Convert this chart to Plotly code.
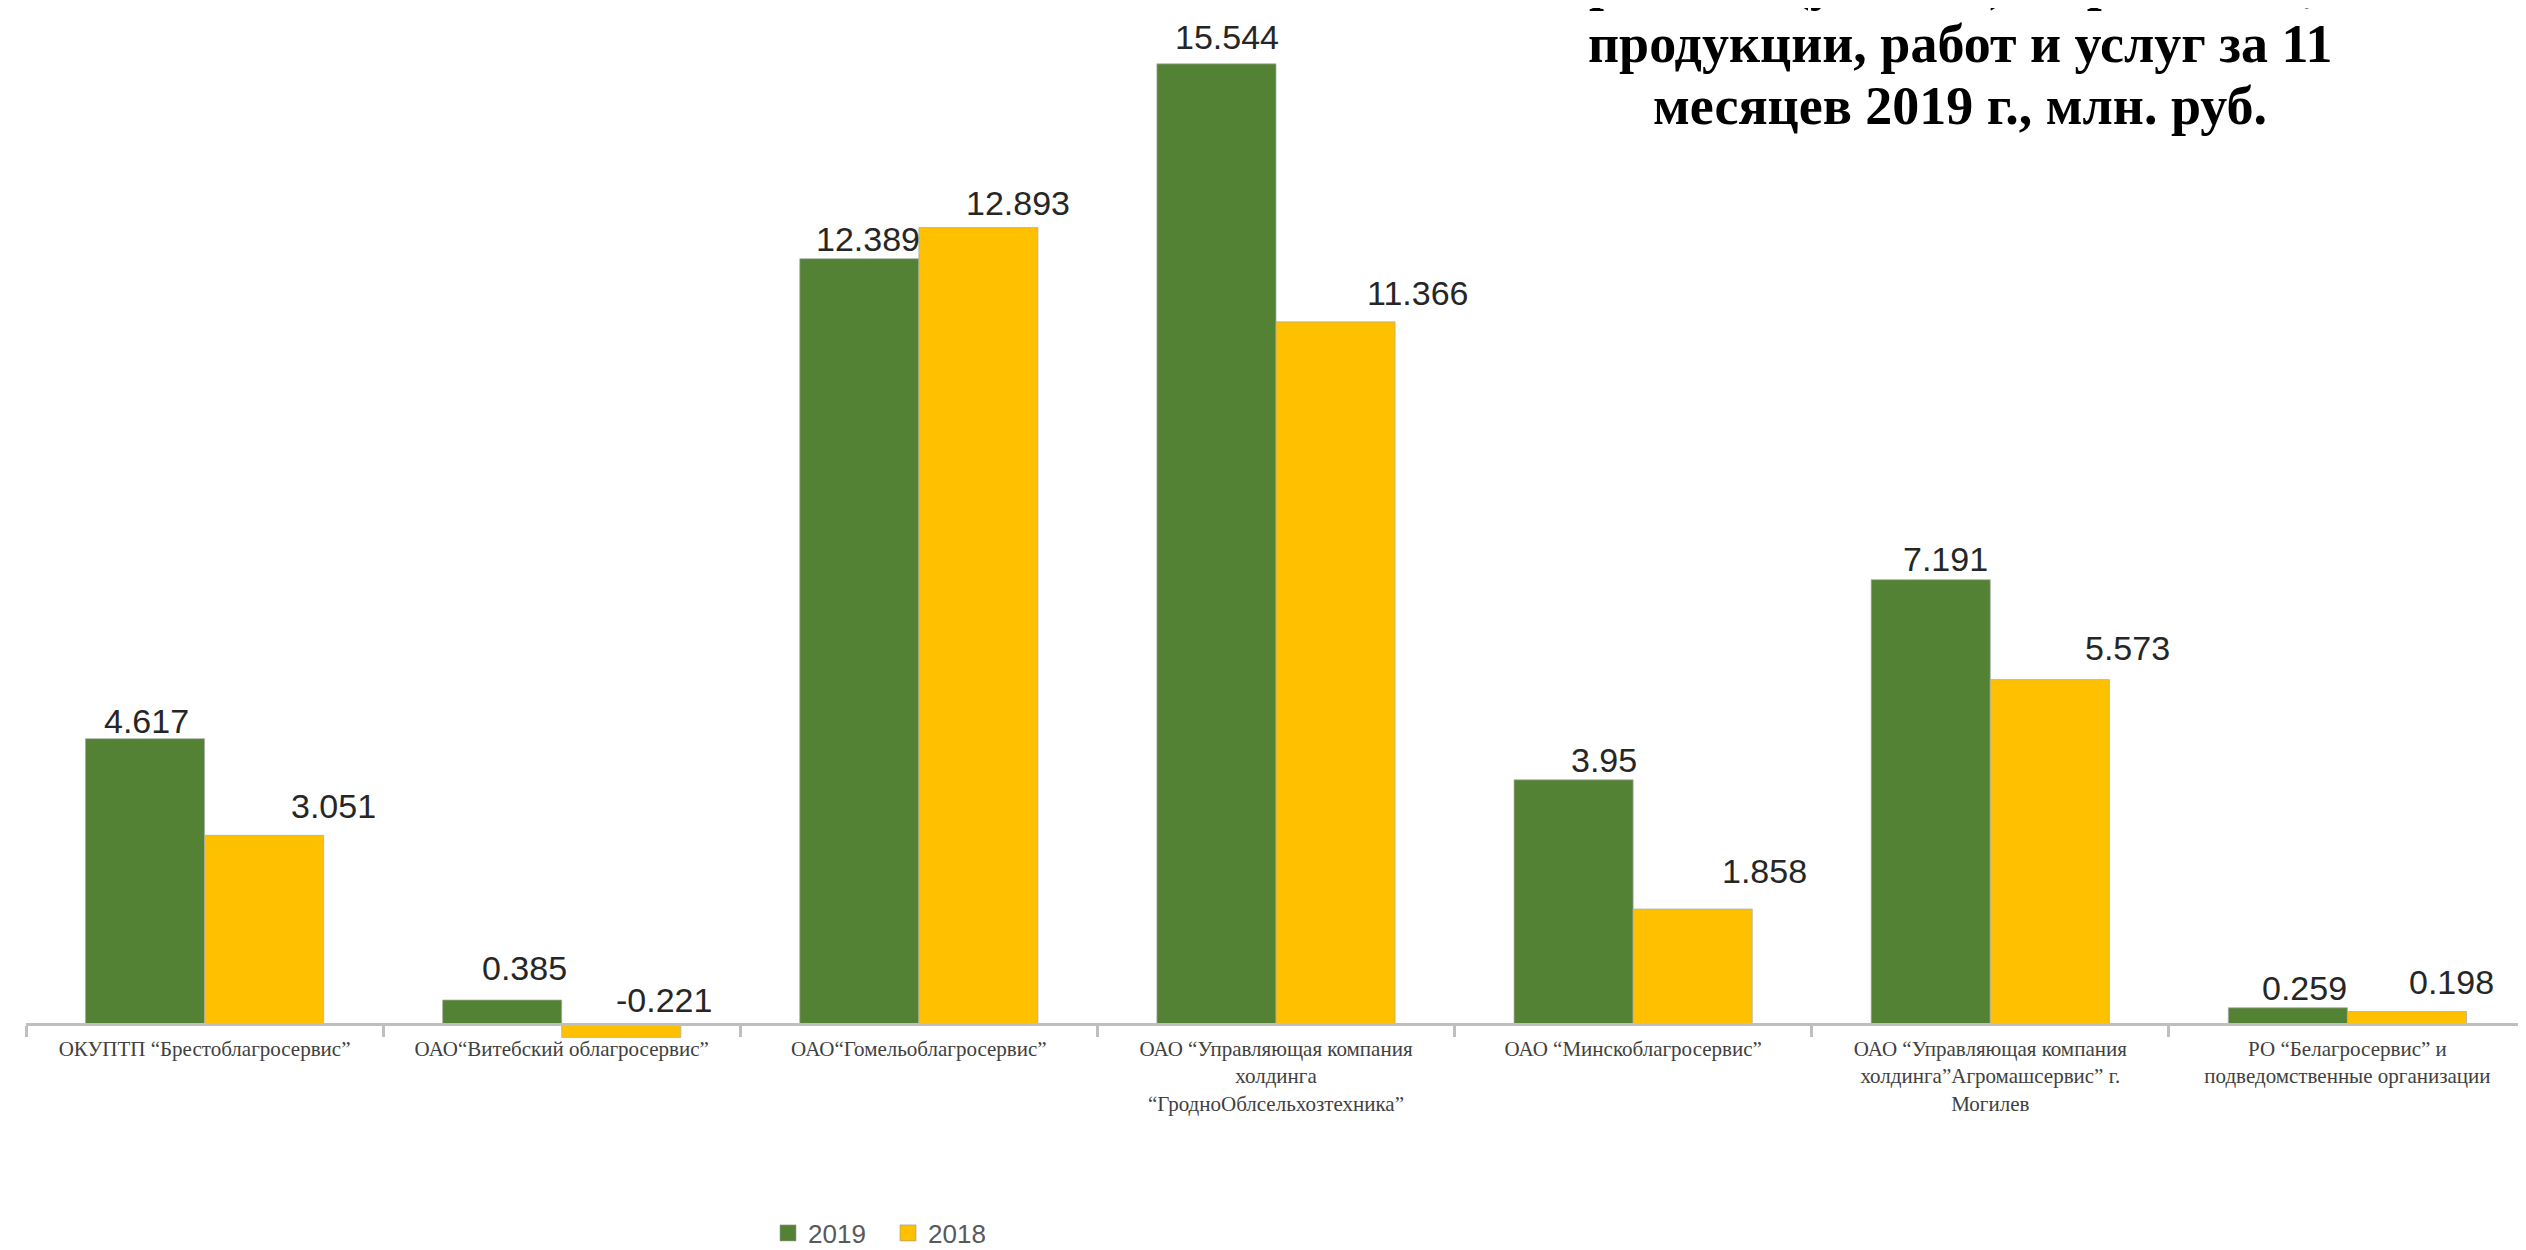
import plotly.graph_objects as go

# ---------------- data ----------------
categories = [
    "ОКУПТП “Брестоблагросервис”",
    "ОАО“Витебский облагросервис”",
    "ОАО“Гомельоблагросервис”",
    "ОАО “Управляющая компания<br>холдинга<br>“ГродноОблсельхозтехника”",
    "ОАО “Минскоблагросервис”",
    "ОАО “Управляющая компания<br>холдинга”Агромашсервис” г.<br>Могилев",
    "РО “Белагросервис” и<br>подведомственные организации",
]
series_names = ["2019", "2018"]
values_2019 = [4.617, 0.385, 12.389, 15.544, 3.95, 7.191, 0.259]
values_2018 = [3.051, -0.221, 12.893, 11.366, 1.858, 5.573, 0.198]
title_lines = [
    "Прибыль (убыток) от реализации",
    "продукции, работ и услуг за 11",
    "месяцев 2019 г., млн. руб.",
]

# ---------------- style / layout (page pixels) ----------------
GREEN = "#548235"
YELLOW = "#FFC000"
PAGE_OFF = 8                     # default body margin of the html page
W, H = 2526 - PAGE_OFF, 1250 - PAGE_OFF
PLOT_LEFT, PLOT_TOP, PLOT_BOTTOM = 26, 32, 1067   # page pixels
L = PLOT_LEFT - PAGE_OFF
T = PLOT_TOP - PAGE_OFF
B = PLOT_BOTTOM - PAGE_OFF
R = 0
YMIN, YMAX = -0.7, 16.06
BARGAP = 0.333
# manual data-label nudges (pixels) as in the source chart
label_dx = {"2019": [1, 22, 9, 11, 30, 15, 17], "2018": [69, 43, 40, 82, 72, 78, 45]}
label_gap = {"2019": [6, 20, 8, 15, 8, 9, 8], "2018": [17, 12, 13, 17, 26, 20, 18]}
LABEL_DESC = 9

plot_w = W - L - R
plot_h = B - T
cat_w = plot_w / len(categories)
bar_off = cat_w * (1 - BARGAP) / 4


def px_to_paper_x(px_page):
    return (px_page - PAGE_OFF - L) / plot_w


def px_to_paper_y(py_page):
    return (B - (py_page - PAGE_OFF)) / plot_h


fig = go.Figure()
for name, vals, col in [("2019", values_2019, GREEN), ("2018", values_2018, YELLOW)]:
    fig.add_trace(go.Bar(
        x=categories, y=vals, name=name, showlegend=False,
        marker=dict(color=col, line=dict(color="rgba(170,170,170,0.7)", width=1)),
    ))
for name, col in [("2019", GREEN), ("2018", YELLOW)]:
    fig.add_trace(go.Scatter(
        x=[None], y=[None], mode="markers", name=name,
        marker=dict(symbol="square", size=16, color=col,
                    line=dict(color="rgba(150,150,150,0.6)", width=1)),
    ))

annotations = []
for name, vals, sign in [("2019", values_2019, -1), ("2018", values_2018, 1)]:
    for i, (c, v) in enumerate(zip(categories, vals)):
        annotations.append(dict(
            x=c, y=max(v, 0), xref="x", yref="y",
            text=f"{v:g}", showarrow=False,
            xanchor="center", yanchor="bottom",
            xshift=sign * bar_off + label_dx[name][i],
            yshift=label_gap[name][i] - LABEL_DESC,
            font=dict(family="Liberation Sans, Arial, sans-serif", size=34, color="#262626"),
        ))

title_x_page = 1960
title_bottoms_page = [13, 76, 138]
for line, bpix in zip(title_lines, title_bottoms_page):
    annotations.append(dict(
        x=px_to_paper_x(title_x_page), y=px_to_paper_y(bpix),
        xref="paper", yref="paper", xanchor="center", yanchor="bottom",
        text=f"<b>{line}</b>", showarrow=False,
        font=dict(family="Liberation Serif, Times New Roman, serif", size=54, color="#000000"),
    ))

fig.update_layout(
    width=W, height=H,
    margin=dict(l=L, r=R, t=T, b=H - B, pad=0, autoexpand=False),
    plot_bgcolor="white", paper_bgcolor="white",
    barmode="group", bargap=BARGAP, bargroupgap=0,
    annotations=annotations,
    showlegend=True,
    legend=dict(
        orientation="h", x=px_to_paper_x(768), xanchor="left",
        y=px_to_paper_y(1233), yanchor="middle",
        font=dict(family="Liberation Sans, Arial, sans-serif", size=26, color="#595959"),
        entrywidth=75, entrywidthmode="pixels", itemclick=False,
    ),
    xaxis=dict(
        type="category", anchor="free", position=-YMIN / (YMAX - YMIN),
        range=[-0.5, len(categories) - 0.5], automargin=False,
        showline=True, linecolor="#bfbfbf", linewidth=3,
        ticks="outside", tickson="boundaries", ticklen=11, tickwidth=3, tickcolor="#bfbfbf",
        ticklabelstandoff=5,
        tickfont=dict(family="Liberation Serif, Times New Roman, serif", size=21, color="#404040"),
        tickangle=0, showgrid=False, zeroline=False,
    ),
    yaxis=dict(visible=False, range=[YMIN, YMAX], showgrid=False, zeroline=False,
               automargin=False),
)

fig.write_html("out.html")
